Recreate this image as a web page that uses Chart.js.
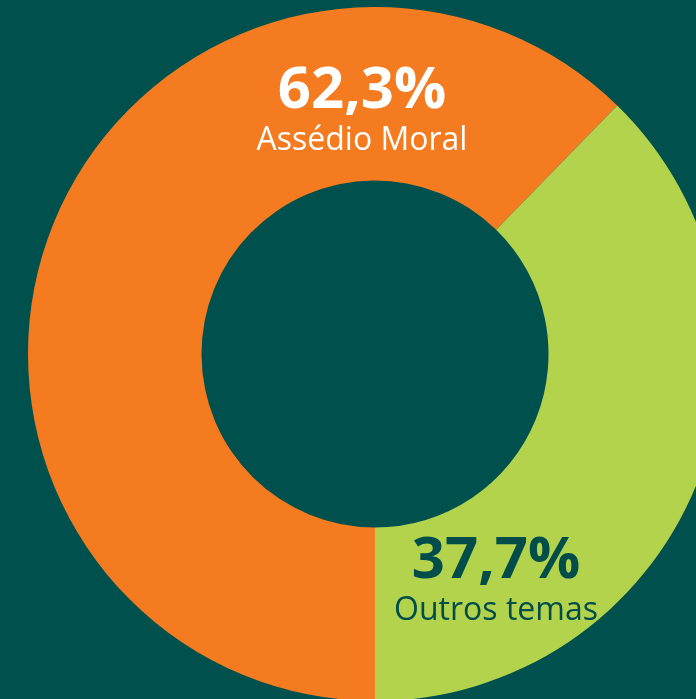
<!DOCTYPE html>
<html>
<head>
<meta charset="utf-8">
<script src="https://cdn.jsdelivr.net/npm/chart.js@4"></script>
<style>
  html, body { margin: 0; padding: 0; width: 696px; height: 699px; overflow: hidden; background: #00504d; }
  #wrap { position: absolute; left: 28px; top: 7px; width: 694px; height: 694px; }
</style>
</head>
<body>
<div id="wrap"><canvas id="chart"></canvas></div>
<script>
// Share of reports: moral harassment vs other topics
const CATEGORIES = ['Assédio Moral', 'Outros temas'];
const VALUES     = [62.3, 37.7];
const PCT_LABELS = ['62,3%', '37,7%'];

const COLORS     = ['#f47b20', '#b2d34b'];
const TEXT_COLOR = ['#ffffff', '#004d4a'];
// label offsets from the doughnut centre (dx, baseline of value, baseline of name)
const LABEL_POS  = [[-13, -246, -204], [121, 224, 266]];

const labelPlugin = {
  id: 'sliceLabels',
  afterDraw(chart) {
    const arc = chart.getDatasetMeta(0).data[0];
    const cx = arc.x, cy = arc.y;
    const ctx = chart.ctx;
    ctx.save();
    ctx.textAlign = 'center';
    ctx.textBaseline = 'alphabetic';
    CATEGORIES.forEach((name, i) => {
      const [dx, yv, yn] = LABEL_POS[i];
      ctx.fillStyle = TEXT_COLOR[i];
      ctx.font = 'bold 58px "Open Sans"';
      ctx.fillText(PCT_LABELS[i], cx + dx, cy + yv);
      ctx.font = '32px "Open Sans"';
      ctx.fillText(name, cx + dx, cy + yn);
    });
    ctx.restore();
  }
};

new Chart(document.getElementById('chart').getContext('2d'), {
  type: 'doughnut',
  data: {
    labels: CATEGORIES,
    datasets: [{
      data: VALUES,
      backgroundColor: COLORS,
      borderWidth: 0
    }]
  },
  options: {
    responsive: true,
    maintainAspectRatio: false,
    animation: false,
    rotation: 180,
    cutout: '50%',
    layout: { padding: 0 },
    plugins: {
      legend: { display: false },
      tooltip: { enabled: false }
    }
  },
  plugins: [labelPlugin]
});
</script>
</body>
</html>
